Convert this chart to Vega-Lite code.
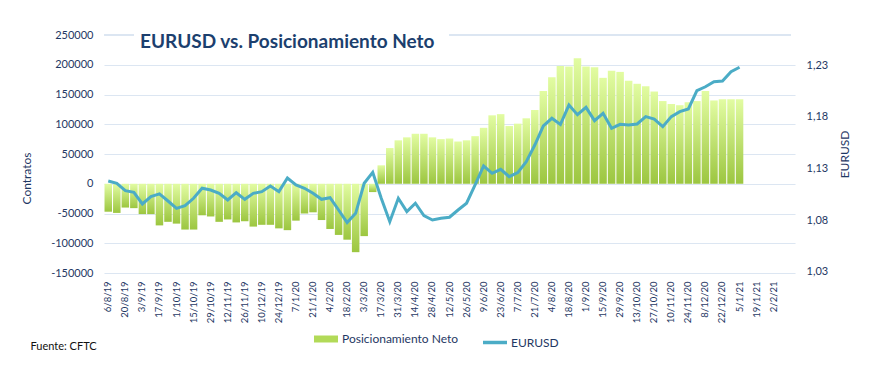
{
  "$schema": "https://vega.github.io/schema/vega-lite/v6.json",
  "width": 691,
  "height": 238,
  "autosize": "none",
  "padding": {"left": 104, "top": 35, "right": 94, "bottom": 104},
  "background": "white",
  "config": {
    "view": {"stroke": null},
    "font": "Lato",
    "locale": {"number": {"decimal": ",", "thousands": ".", "grouping": [3], "currency": ["", " €"], "minus": "-"}},
    "axisLeft": {
      "format": "d",
      "labelOverlap": false,
      "labelFontSize": 11,
      "labelFont": "Lato",
      "labelColor": "#1F3864",
      "labelPadding": 11,
      "ticks": false,
      "domain": false,
      "gridColor": "#dce6f2",
      "gridWidth": 1.2,
      "titleFontSize": 12,
      "titleFontWeight": "normal",
      "titleFont": "Lato",
      "titleColor": "#1F3864"
    }
  },
  "title": {
    "text": "EURUSD vs. Posicionamiento Neto",
    "anchor": "start",
    "frame": "group",
    "offset": -23,
    "dx": 36,
    "fontSize": 19,
    "font": "Lato",
    "fontWeight": "bold",
    "color": "#1c3f6e"
  },
  "data": {
    "values": [
      {"semana": "6/8/19", "neto": -47000, "eurusd": 1.1179},
      {"semana": "13/8/19", "neto": -49000, "eurusd": 1.1157},
      {"semana": "20/8/19", "neto": -40000, "eurusd": 1.1086},
      {"semana": "27/8/19", "neto": -41000, "eurusd": 1.1070},
      {"semana": "3/9/19", "neto": -51000, "eurusd": 1.0957},
      {"semana": "10/9/19", "neto": -51000, "eurusd": 1.1028},
      {"semana": "17/9/19", "neto": -70000, "eurusd": 1.1054},
      {"semana": "24/9/19", "neto": -64000, "eurusd": 1.0986},
      {"semana": "1/10/19", "neto": -67000, "eurusd": 1.0915},
      {"semana": "8/10/19", "neto": -77000, "eurusd": 1.0941},
      {"semana": "15/10/19", "neto": -77000, "eurusd": 1.1012},
      {"semana": "22/10/19", "neto": -53000, "eurusd": 1.1109},
      {"semana": "29/10/19", "neto": -55000, "eurusd": 1.1092},
      {"semana": "5/11/19", "neto": -64000, "eurusd": 1.1060},
      {"semana": "12/11/19", "neto": -60000, "eurusd": 1.0996},
      {"semana": "19/11/19", "neto": -65000, "eurusd": 1.1066},
      {"semana": "26/11/19", "neto": -63000, "eurusd": 1.1002},
      {"semana": "3/12/19", "neto": -72000, "eurusd": 1.1060},
      {"semana": "10/12/19", "neto": -69000, "eurusd": 1.1076},
      {"semana": "17/12/19", "neto": -69000, "eurusd": 1.1131},
      {"semana": "24/12/19", "neto": -75000, "eurusd": 1.1076},
      {"semana": "31/12/19", "neto": -78000, "eurusd": 1.1208},
      {"semana": "7/1/20", "neto": -62000, "eurusd": 1.1141},
      {"semana": "14/1/20", "neto": -50000, "eurusd": 1.1109},
      {"semana": "21/1/20", "neto": -48000, "eurusd": 1.1060},
      {"semana": "28/1/20", "neto": -61000, "eurusd": 1.1002},
      {"semana": "4/2/20", "neto": -76000, "eurusd": 1.1018},
      {"semana": "11/2/20", "neto": -86000, "eurusd": 1.0899},
      {"semana": "18/2/20", "neto": -94000, "eurusd": 1.0777},
      {"semana": "25/2/20", "neto": -115000, "eurusd": 1.0867},
      {"semana": "3/3/20", "neto": -88000, "eurusd": 1.1157},
      {"semana": "10/3/20", "neto": -14000, "eurusd": 1.1263},
      {"semana": "17/3/20", "neto": 31000, "eurusd": 1.1012},
      {"semana": "24/3/20", "neto": 60000, "eurusd": 1.0786},
      {"semana": "31/3/20", "neto": 73000, "eurusd": 1.1012},
      {"semana": "7/4/20", "neto": 78000, "eurusd": 1.0883},
      {"semana": "14/4/20", "neto": 84000, "eurusd": 1.0964},
      {"semana": "21/4/20", "neto": 84000, "eurusd": 1.0844},
      {"semana": "28/4/20", "neto": 78000, "eurusd": 1.0802},
      {"semana": "5/5/20", "neto": 75000, "eurusd": 1.0819},
      {"semana": "12/5/20", "neto": 76000, "eurusd": 1.0829},
      {"semana": "19/5/20", "neto": 71000, "eurusd": 1.0899},
      {"semana": "26/5/20", "neto": 73000, "eurusd": 1.0964},
      {"semana": "2/6/20", "neto": 80000, "eurusd": 1.1141},
      {"semana": "9/6/20", "neto": 94000, "eurusd": 1.1324},
      {"semana": "16/6/20", "neto": 115000, "eurusd": 1.1253},
      {"semana": "23/6/20", "neto": 117000, "eurusd": 1.1292},
      {"semana": "30/6/20", "neto": 97000, "eurusd": 1.1221},
      {"semana": "7/7/20", "neto": 101000, "eurusd": 1.1260},
      {"semana": "14/7/20", "neto": 110000, "eurusd": 1.1366},
      {"semana": "21/7/20", "neto": 124000, "eurusd": 1.1527},
      {"semana": "28/7/20", "neto": 156000, "eurusd": 1.1711},
      {"semana": "4/8/20", "neto": 179000, "eurusd": 1.1785},
      {"semana": "11/8/20", "neto": 198000, "eurusd": 1.1725},
      {"semana": "18/8/20", "neto": 197000, "eurusd": 1.1913},
      {"semana": "25/8/20", "neto": 211000, "eurusd": 1.1820},
      {"semana": "1/9/20", "neto": 197000, "eurusd": 1.1891},
      {"semana": "8/9/20", "neto": 196000, "eurusd": 1.1762},
      {"semana": "15/9/20", "neto": 178000, "eurusd": 1.1833},
      {"semana": "22/9/20", "neto": 190000, "eurusd": 1.1688},
      {"semana": "29/9/20", "neto": 188000, "eurusd": 1.1727},
      {"semana": "6/10/20", "neto": 173000, "eurusd": 1.1720},
      {"semana": "13/10/20", "neto": 168000, "eurusd": 1.1730},
      {"semana": "20/10/20", "neto": 164000, "eurusd": 1.1801},
      {"semana": "27/10/20", "neto": 155000, "eurusd": 1.1778},
      {"semana": "3/11/20", "neto": 139000, "eurusd": 1.1704},
      {"semana": "10/11/20", "neto": 134000, "eurusd": 1.1801},
      {"semana": "17/11/20", "neto": 132000, "eurusd": 1.1849},
      {"semana": "24/11/20", "neto": 137000, "eurusd": 1.1875},
      {"semana": "1/12/20", "neto": 139000, "eurusd": 1.2052},
      {"semana": "8/12/20", "neto": 156000, "eurusd": 1.2090},
      {"semana": "15/12/20", "neto": 140000, "eurusd": 1.2139},
      {"semana": "22/12/20", "neto": 142000, "eurusd": 1.2145},
      {"semana": "29/12/20", "neto": 142000, "eurusd": 1.2235},
      {"semana": "5/1/21", "neto": 142000, "eurusd": 1.2278}
    ]
  },
  "encoding": {
    "x": {
      "field": "semana",
      "type": "ordinal",
      "sort": null,
      "scale": {
        "domain": ["6/8/19","13/8/19","20/8/19","27/8/19","3/9/19","10/9/19","17/9/19","24/9/19","1/10/19","8/10/19","15/10/19","22/10/19","29/10/19","5/11/19","12/11/19","19/11/19","26/11/19","3/12/19","10/12/19","17/12/19","24/12/19","31/12/19","7/1/20","14/1/20","21/1/20","28/1/20","4/2/20","11/2/20","18/2/20","25/2/20","3/3/20","10/3/20","17/3/20","24/3/20","31/3/20","7/4/20","14/4/20","21/4/20","28/4/20","5/5/20","12/5/20","19/5/20","26/5/20","2/6/20","9/6/20","16/6/20","23/6/20","30/6/20","7/7/20","14/7/20","21/7/20","28/7/20","4/8/20","11/8/20","18/8/20","25/8/20","1/9/20","8/9/20","15/9/20","22/9/20","29/9/20","6/10/20","13/10/20","20/10/20","27/10/20","3/11/20","10/11/20","17/11/20","24/11/20","1/12/20","8/12/20","15/12/20","22/12/20","29/12/20","5/1/21","12/1/21","19/1/21","26/1/21","2/2/21","9/2/21","16/2/21"],
        "paddingInner": 0.12,
        "paddingOuter": 0.06
      },
      "axis": {
        "values": ["6/8/19","20/8/19","3/9/19","17/9/19","1/10/19","15/10/19","29/10/19","12/11/19","26/11/19","10/12/19","24/12/19","7/1/20","21/1/20","4/2/20","18/2/20","3/3/20","17/3/20","31/3/20","14/4/20","28/4/20","12/5/20","26/5/20","9/6/20","23/6/20","7/7/20","21/7/20","4/8/20","18/8/20","1/9/20","15/9/20","29/9/20","13/10/20","27/10/20","10/11/20","24/11/20","8/12/20","22/12/20","5/1/21","19/1/21","2/2/21"],
        "labelAngle": -90,
        "labelFontSize": 9.5,
        "labelFont": "Lato",
        "labelColor": "#1F3864",
        "labelPadding": 8,
        "ticks": false,
        "domain": false,
        "grid": false,
        "title": "Fuente: CFTC",
        "titleX": -74,
        "titleY": 73,
        "titleAlign": "left",
        "titleBaseline": "middle",
        "titleFontSize": 11,
        "titleFontWeight": "normal",
        "titleFont": "Lato",
        "titleColor": "#111111"
      }
    }
  },
  "layer": [
    {
      "encoding": {
        "y": {
          "field": "neto",
          "type": "quantitative",
          "scale": {"domain": [-150000, 250000], "nice": false, "zero": false},
          "axis": {
            "orient": "left",
            "values": [-150000, -100000, -50000, 0, 50000, 100000, 150000, 200000, 250000],
            "grid": true,
            "gridColor": {"condition": {"test": "datum.value === 250000", "value": "transparent"}, "value": "#dce6f2"},
            "title": "Contratos",
            "titleX": -71,
            "titleY": 143
          }
        }
      },
      "layer": [
        {
          "mark": {
            "type": "bar",
            "color": {
              "gradient": "linear",
              "x1": 0, "y1": 0, "x2": 0, "y2": 1,
              "stops": [
                {"offset": 0, "color": "#e2fca2"},
                {"offset": 1, "color": "#9cc640"}
              ]
            }
          }
        },
        {
          "mark": {"type": "rule", "color": "#dce6f2", "strokeWidth": 1.2},
          "encoding": {
            "x": {"datum": "6/8/19", "bandPosition": 0},
            "x2": {"datum": "27/8/19"},
            "y": {"datum": 250000}
          }
        },
        {
          "mark": {"type": "rule", "color": "#dce6f2", "strokeWidth": 1.2},
          "encoding": {
            "x": {"datum": "12/5/20"},
            "x2": {"datum": "16/2/21"},
            "y": {"datum": 250000}
          }
        }
      ]
    },
    {
      "mark": {"type": "line", "strokeWidth": 3, "interpolate": "linear"},
      "encoding": {
        "y": {
          "field": "eurusd",
          "type": "quantitative",
          "scale": {"domain": [1.029, 1.259], "nice": false, "zero": false},
          "axis": {
            "orient": "right",
            "values": [1.03, 1.08, 1.13, 1.18, 1.23],
            "format": ".2f",
            "labelFontSize": 11,
            "labelFont": "Lato",
            "labelColor": "#1F3864",
            "labelPadding": 11,
            "ticks": false,
            "domain": false,
            "grid": false,
            "title": "EURUSD",
            "titleAngle": -90,
            "titleX": 56,
            "titleY": 119,
            "titleFontSize": 12,
            "titleFontWeight": "normal",
            "titleFont": "Lato",
            "titleColor": "#1F3864"
          }
        },
        "color": {
          "datum": "EURUSD",
          "scale": {"domain": ["Posicionamiento Neto", "EURUSD"], "range": ["#b2da58", "#4BACC6"]},
          "legend": {
            "title": null,
            "orient": "none",
            "legendX": 216,
            "legendY": 298,
            "direction": "horizontal",
            "symbolType": "stroke",
            "symbolSize": 576,
            "labelFontSize": 12,
            "labelFont": "Lato",
            "labelColor": "#1F3864",
            "labelOffset": 10,
            "columnPadding": 17,
            "encode": {
              "symbols": {"update": {"strokeWidth": {"signal": "datum.value === 'EURUSD' ? 3.5 : 7"}}}
            }
          }
        }
      }
    }
  ],
  "resolve": {"scale": {"y": "independent"}}
}
